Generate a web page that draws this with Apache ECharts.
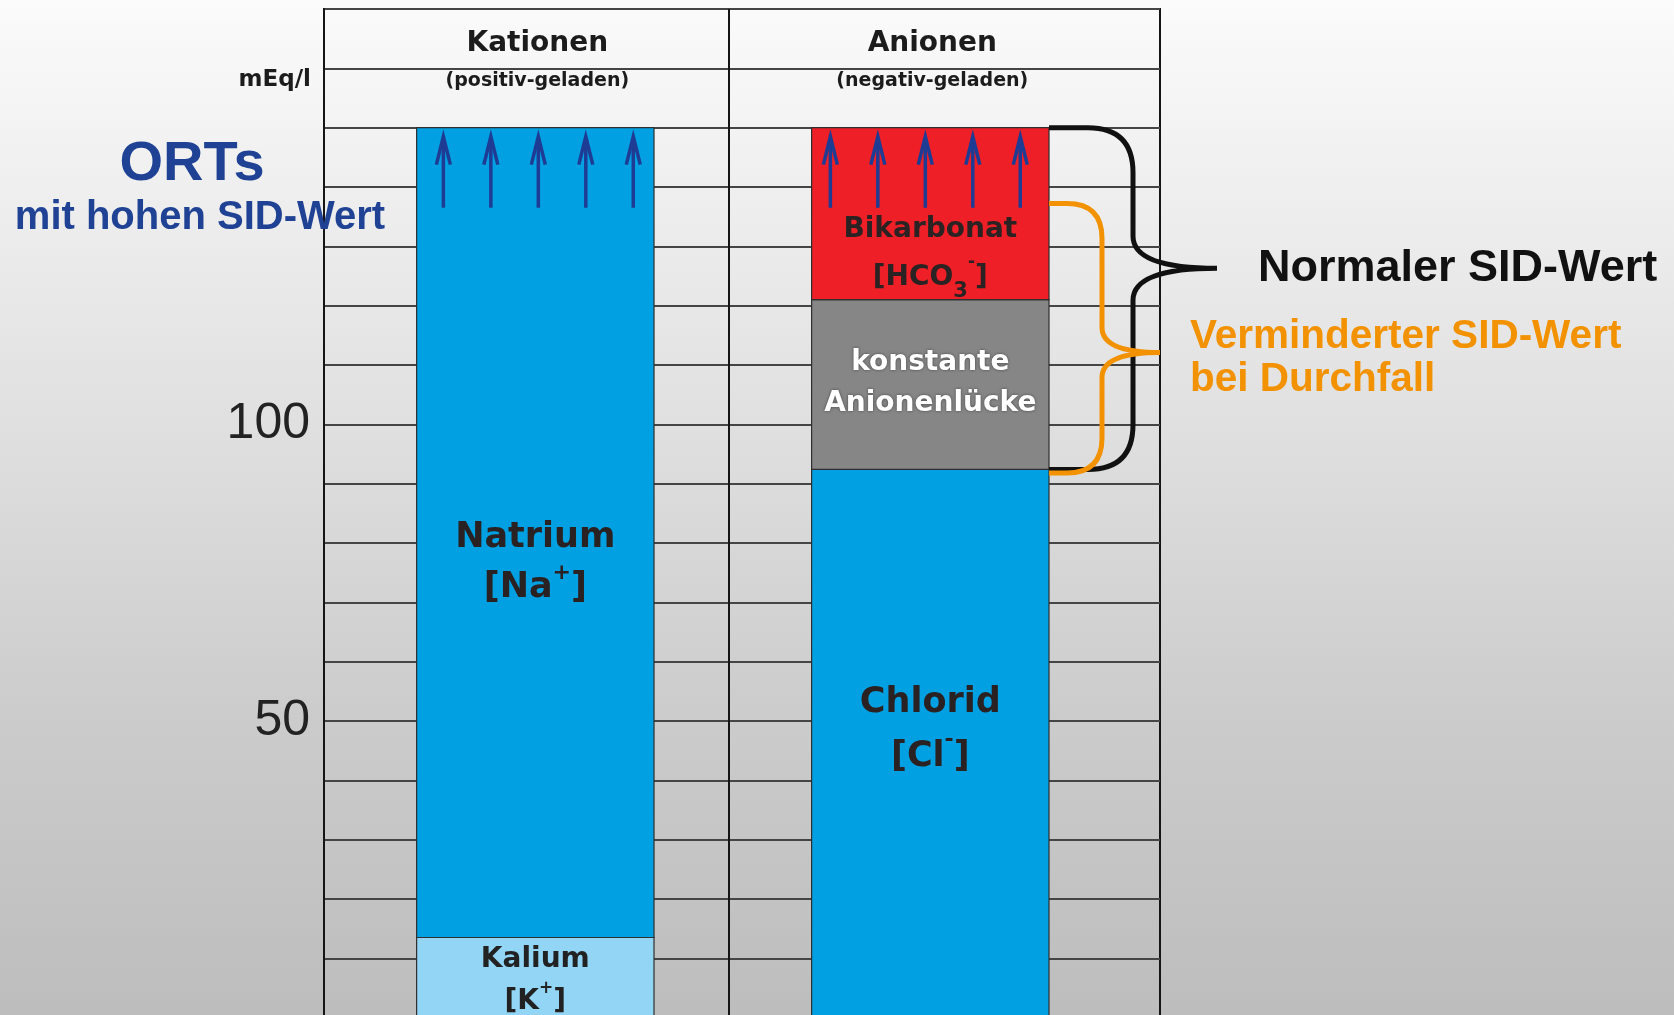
<!DOCTYPE html>
<html>
<head>
<meta charset="utf-8">
<script src="https://cdn.jsdelivr.net/npm/echarts@6/dist/echarts.min.js"></script>
<style>
  html, body { margin: 0; padding: 0; }
  #main { width: 1674px; height: 1015px; }
</style>
</head>
<body>
<div id="main"></div>
<script>
// Spalten (x = 1, 2)
var columns = ['Kationen', 'Anionen'];
var columnNotes = ['(positiv-geladen)', '(negativ-geladen)'];

// mEq/l, von unten nach oben gestapelt
var kationNames = ['Kalium\n[K{sup|+}]', 'Natrium\n[Na{sup|+}]'];
var kationValues = [13.5, 136.5];
var anionNames = ['Chlorid\n[Cl{sup|-}]', 'konstante\nAnionenlücke', 'Bikarbonat\n[HCO{sub|3}{sup|-}]'];
var anionValues = [92.4, 28.6, 29];

var yLabelTicks = [50, 100];
var arrowRange = [136.5, 148.5];          // ORTs-Pfeile
var normalSID = [92.4, 126.3, 150];       // unten, Spitze, oben
var reducedSID = [91.8, 112.1, 137.2];
var braceLabels = ['Normaler SID-Wert', 'Verminderter SID-Wert\nbei Durchfall'];

var barWidth = 0.601;     // in x-Achsen-Einheiten
var columnSplit = 1.49;
var boldFont = 'DejaVu Sans';
var arialFont = 'Liberation Sans';
var arrowShift = [3, -5];  // px je Spalte

var kationStyles = [
  { color: '#93d5f4', size: 28, lh: 42, text: '#222', dy: 3 },
  { color: '#00a0e3', size: 35, lh: 50, text: '#2a2222', dy: -10 }
];
var anionStyles = [
  { color: '#00a0e3', size: 35, lh: 54, text: '#2a2222', dy: -14 },
  { color: '#868686', size: 28, lh: 41, text: '#ffffff', dy: -1, shadow: true },
  { color: '#ee1f26', size: 28, lh: 48, text: '#2b2323', dy: 0 }
];
var braceStyles = [
  { color: '#111111', dx: 84, tipDx: 168, r: 45, rt: 32, size: 45, lh: 50, textDx: 41, textDy: 0 },
  { color: '#f39200', dx: 53, tipDx: 111, r: 35, rt: 25, size: 40.5, lh: 43, textDx: 30, textDy: 6 }
];

var segments = [];
function stackColumn(col, names, values, styles) {
  var base = 0;
  values.forEach(function (v, i) {
    segments.push({ value: [col, base, base + v], name: names[i], st: styles[i] });
    base += v;
  });
}
stackColumn(1, kationNames, kationValues, kationStyles);
stackColumn(2, anionNames, anionValues, anionStyles);

function renderBar(params, api) {
  var seg = segments[params.dataIndex];
  var st = seg.st;
  var col = api.value(0), lo = api.value(1), hi = api.value(2);
  var p0 = api.coord([col, lo]);
  var p1 = api.coord([col, hi]);
  var w = api.size([barWidth, 0])[0];
  // Beschriftung mittig im Bereich unterhalb der Pfeile
  var top = Math.min(hi, arrowRange[0]);
  var ly = (p0[1] + api.coord([col, top])[1]) / 2 + st.dy;
  var small = Math.round(st.size * 0.62);
  var textStyle = {
    text: seg.name, fill: st.text,
    fontSize: st.size, fontWeight: 'bold', fontFamily: boldFont,
    lineHeight: st.lh,
    align: 'center', verticalAlign: 'middle',
    textAlign: 'center', textVerticalAlign: 'middle',
    rich: {
      sup: { fontSize: small, fontWeight: 'bold', fontFamily: boldFont, fill: st.text,
        lineHeight: Math.round(st.size * 0.75), verticalAlign: 'top' },
      sub: { fontSize: Math.round(st.size * 0.75), fontWeight: 'bold', fontFamily: boldFont, fill: st.text,
        lineHeight: Math.round(st.size * 0.8), verticalAlign: 'bottom' }
    }
  };
  if (st.shadow) {
    textStyle.textShadowColor = 'rgba(0,0,0,0.5)';
    textStyle.textShadowBlur = 3;
  }
  return {
    type: 'group',
    children: [
      { type: 'rect', shape: { x: p0[0] - w / 2, y: p1[1], width: w, height: p0[1] - p1[1] },
        style: { fill: st.color, stroke: '#2e2e2e', lineWidth: 1.2 } },
      { type: 'text', x: p0[0], y: ly, style: textStyle }
    ]
  };
}

function renderArrows(params, api) {
  var col = api.value(0);
  var b = api.coord([col, api.value(1)]);
  var t = api.coord([col, api.value(2)]);
  var w = api.size([barWidth, 0])[0];
  var kids = [];
  [-0.4, -0.2, 0, 0.2, 0.4].forEach(function (f) {
    var x = b[0] + f * w + arrowShift[params.dataIndex];
    kids.push({ type: 'polyline', shape: { points: [[x, b[1]], [x, t[1] + 2]] },
      style: { stroke: '#1e3c94', lineWidth: 3.5, fill: null } });
    kids.push({ type: 'polyline', shape: { points: [[x - 7, t[1] + 28], [x, t[1]], [x + 7, t[1] + 28]] },
      style: { stroke: '#1e3c94', lineWidth: 3.5, fill: null, lineJoin: 'miter' } });
  });
  return { type: 'group', children: kids };
}

function renderBrace(params, api) {
  var s = braceStyles[params.dataIndex];
  var col = api.value(0);
  var pLo = api.coord([col, api.value(1)]);
  var pTip = api.coord([col, api.value(2)]);
  var pHi = api.coord([col, api.value(3)]);
  var xr = pHi[0] + api.size([barWidth, 0])[0] / 2;
  var yT = pHi[1], yM = pTip[1], yB = pLo[1];
  var x1 = xr + s.dx, xt = xr + s.tipDx, r = s.r;
  var d = 'M' + xr + ',' + yT +
    ' L' + (x1 - r) + ',' + yT +
    ' Q' + x1 + ',' + yT + ' ' + x1 + ',' + (yT + r) +
    ' L' + x1 + ',' + (yM - s.rt) +
    ' Q' + x1 + ',' + yM + ' ' + xt + ',' + yM +
    ' Q' + x1 + ',' + yM + ' ' + x1 + ',' + (yM + s.rt) +
    ' L' + x1 + ',' + (yB - r) +
    ' Q' + x1 + ',' + yB + ' ' + (x1 - r) + ',' + yB +
    ' L' + xr + ',' + yB;
  return {
    type: 'group',
    children: [
      { type: 'path', shape: { pathData: d }, style: { fill: 'none', stroke: s.color, lineWidth: 5 } },
      { type: 'text', x: xt + s.textDx, y: yM + s.textDy,
        style: { text: braceLabels[params.dataIndex], fill: s.color,
          fontSize: s.size, fontWeight: 'bold', fontFamily: arialFont, lineHeight: s.lh,
          align: 'left', verticalAlign: 'middle', textAlign: 'left', textVerticalAlign: 'middle' } }
    ]
  };
}

function renderHeader(params, api) {
  var col = api.value(0);
  var p = api.coord([col, 164.2]);
  var q = api.coord([col, 157.8]);
  return {
    type: 'group',
    children: [
      { type: 'text', x: p[0] + 2, y: p[1],
        style: { text: columns[params.dataIndex], fill: '#1c1c1c', fontSize: 28, fontWeight: 'bold',
          fontFamily: boldFont, align: 'center', verticalAlign: 'middle', textAlign: 'center', textVerticalAlign: 'middle' } },
      { type: 'text', x: p[0] + 2, y: q[1],
        style: { text: columnNotes[params.dataIndex], fill: '#1c1c1c', fontSize: 19, fontWeight: 'bold',
          fontFamily: boldFont, align: 'center', verticalAlign: 'middle', textAlign: 'center', textVerticalAlign: 'middle' } }
    ]
  };
}

var chart = echarts.init(document.getElementById('main'), null, { renderer: 'canvas' });
var option = {
  animation: false,
  backgroundColor: {
    type: 'linear', x: 0, y: 0, x2: 0, y2: 1,
    colorStops: [
      { offset: 0, color: '#fbfbfb' },
      { offset: 0.4, color: '#e1e1e1' },
      { offset: 0.7, color: '#cccccc' },
      { offset: 1, color: '#bdbdbd' }
    ]
  },
  grid: {
    left: 324, top: 9, width: 836, height: 1008.6,
    show: true, borderColor: '#151515', borderWidth: 2,
    containLabel: false, outerBoundsMode: 'none'
  },
  xAxis: { type: 'value', min: 0.465, max: 2.5815, show: false },
  yAxis: {
    type: 'value', min: 0, max: 170, interval: 10,
    axisLine: { show: true, lineStyle: { color: '#151515', width: 2 } },
    axisTick: { show: false },
    axisLabel: {
      margin: 14, fontSize: 50, fontFamily: arialFont, color: '#222',
      formatter: function (v) { return yLabelTicks.indexOf(v) >= 0 ? String(v) : ''; }
    },
    splitLine: { lineStyle: { color: '#454545', width: 2 } }
  },
  series: [
    {
      type: 'custom', name: 'Ionen', renderItem: renderBar, z: 2,
      encode: { x: 0, y: [1, 2] },
      data: segments,
      markLine: {
        silent: true, symbol: 'none', label: { show: false },
        lineStyle: { color: '#151515', width: 2, type: 'solid' },
        data: [{ xAxis: columnSplit }]
      }
    },
    {
      type: 'custom', name: 'Pfeile', renderItem: renderArrows, z: 3,
      encode: { x: 0, y: [1, 2] },
      data: [[1, arrowRange[0], arrowRange[1]], [2, arrowRange[0], arrowRange[1]]]
    },
    {
      type: 'custom', name: 'SID', renderItem: renderBrace, z: 4,
      encode: { x: 0, y: [1, 2, 3] },
      data: [[2].concat(normalSID), [2].concat(reducedSID)]
    },
    {
      type: 'custom', name: 'Kopf', renderItem: renderHeader, z: 4,
      encode: { x: 0 },
      data: [[1], [2]]
    }
  ],
  graphic: [
    { type: 'text', x: 311, y: 80, z: 10,
      style: { text: 'mEq/l', fill: '#1c1c1c', fontSize: 23, fontWeight: 'bold', fontFamily: boldFont,
        align: 'right', verticalAlign: 'middle', textAlign: 'right', textVerticalAlign: 'middle' } },
    { type: 'text', x: 192, y: 165, z: 10,
      style: { text: 'ORTs', fill: '#1f4294', fontSize: 56, fontWeight: 'bold', fontFamily: arialFont,
        align: 'center', verticalAlign: 'middle', textAlign: 'center', textVerticalAlign: 'middle' } },
    { type: 'text', x: 200, y: 218, z: 10,
      style: { text: 'mit hohen SID-Wert', fill: '#1f4294', fontSize: 40, fontWeight: 'bold', fontFamily: arialFont,
        align: 'center', verticalAlign: 'middle', textAlign: 'center', textVerticalAlign: 'middle' } }
  ]
};
chart.setOption(option);
</script>
</body>
</html>
